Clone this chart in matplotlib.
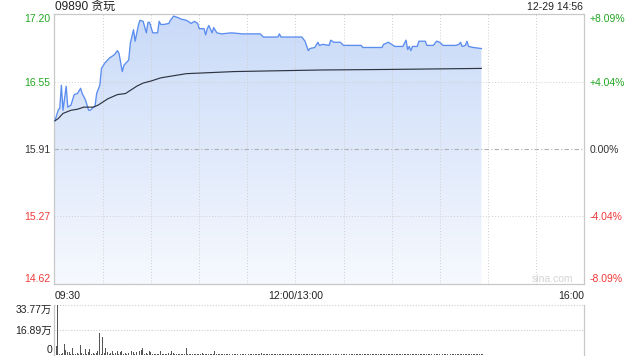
import numpy as np
import matplotlib
matplotlib.use("Agg")
import matplotlib.pyplot as plt
from matplotlib.colors import LinearSegmentedColormap

plt.rcParams['font.family'] = ['Liberation Sans', 'Noto Sans CJK SC']

# stock info
title = "09890 贪玩"
stamp = "12-29 14:56"
prev_close = 15.91
price_ticks = [14.62, 15.27, 15.91, 16.55, 17.20]
pct_labels = ["-8.09%", "-4.04%", "0.00%", "+4.04%", "+8.09%"]
time_labels = ["09:30", "12:00/13:00", "16:00"]
time_label_pos = [0, 150, 330]
vol_ticks = [0, 16.89, 33.77]
vol_labels = ["0", "16.89万", "33.77万"]

# minutes after 09:30 (lunch break removed) and price
price_min = [0, 2, 3, 4, 5, 7, 8, 10, 12, 14, 16, 17, 19, 21, 22, 24, 25, 26, 28, 29,
             31, 34, 37, 39, 40, 42, 43, 46, 47, 49, 50, 52, 53, 55, 57, 58, 59, 61, 64, 65,
             66, 68, 71, 72, 74, 76, 79, 82, 85, 87, 89, 90, 93, 94, 95, 96, 98, 99, 101, 104,
             110, 117, 128, 130, 134, 139, 140, 141, 154, 156, 158, 159, 162, 164, 165, 167, 171, 172, 174, 178,
             180, 191, 192, 204, 205, 208, 210, 212, 217, 219, 220, 221, 222, 223, 226, 227, 231, 232, 236, 238,
             240, 242, 250, 252, 253, 254, 256, 257, 258, 261, 266]
price = [16.18, 16.28, 16.30, 16.52, 16.28, 16.51, 16.31, 16.33, 16.43, 16.44, 16.49, 16.44, 16.38, 16.28, 16.28, 16.31, 16.32, 16.44, 16.52, 16.68,
         16.73, 16.78, 16.81, 16.85, 16.82, 16.65, 16.71, 16.76, 16.92, 17.05, 16.94, 17.09, 17.14, 17.13, 17.02, 17.12, 17.12, 17.02, 17.02, 17.13,
         17.10, 17.10, 17.11, 17.14, 17.18, 17.17, 17.15, 17.14, 17.11, 17.13, 17.11, 17.06, 17.06, 17.00, 17.06, 17.09, 17.02, 17.07, 17.02, 17.01,
         17.02, 17.01, 17.01, 16.98, 16.98, 16.98, 17.01, 16.98, 16.98, 16.94, 16.85, 16.87, 16.88, 16.93, 16.90, 16.91, 16.90, 16.95, 16.93, 16.93,
         16.90, 16.90, 16.88, 16.88, 16.91, 16.93, 16.91, 16.89, 16.89, 16.95, 16.86, 16.89, 16.85, 16.89, 16.89, 16.94, 16.94, 16.90, 16.90, 16.94,
         16.93, 16.90, 16.90, 16.91, 16.93, 16.89, 16.90, 16.94, 16.89, 16.88, 16.87]

# average price line
avg_min = [0, 2, 5, 10, 14, 18, 24, 27, 30, 33, 39, 44, 47, 51, 55, 60, 66, 82, 112, 166, 207, 266]
avg_price = [16.18, 16.20, 16.25, 16.28, 16.29, 16.31, 16.31, 16.33, 16.36, 16.39, 16.43, 16.44, 16.47, 16.51, 16.54,
             16.56, 16.59, 16.63, 16.65, 16.665, 16.67, 16.68]

# volume per minute, in 万 shares
volume = [5.7, 33.77, 1.0, 0.8, 1.5, 7.2, 3.4, 1.8, 1.8, 0.8,
          4.9, 1.0, 0.6, 1.2, 0.8, 6.5, 1.5, 0.8, 4.3, 1.0,
          2.0, 4.3, 0.8, 1.2, 0.6, 1.2, 2.7, 14.4, 1.0, 12.2,
          1.5, 4.9, 1.8, 0.8, 1.2, 2.7, 0.8, 1.2, 2.7, 0.6,
          1.8, 2.7, 0.8, 1.2, 0.5, 1.2, 6.5, 2.7, 1.8, 0.8,
          2.2, 1.8, 2.7, 3.4, 4.7, 0.8, 1.2, 0.5, 2.7, 2.2,
          0.6, 0.8, 0.5, 0.7, 0.5, 2.7, 0.8, 0.5, 0.7, 0.6,
          1.2, 0.5, 2.7, 1.2, 0.6, 0.5, 0.8, 0.6, 0.5, 0.8,
          0.5, 4.9, 0.6, 0.8, 0.5, 0.6, 0.7, 0.5, 0.6, 0.8,
          0.5, 1.2, 0.6, 0.5, 0.7, 0.6, 0.8, 0.5, 0.6, 2.9,
          0.6, 0.7, 0.5, 0.8, 0.6, 0.5, 0.7, 0.6, 0.5, 2.9,
          0.6, 0.5, 0.7, 0.8, 0.5, 0.6, 0.7, 1.0, 0.5, 0.6,
          0.8, 0.5, 0.6, 0.7, 0.5, 0.6, 0.8, 0.7, 1.5, 0.6,
          0.5, 0.7, 0.6, 0.5, 0.8, 0.6, 0.5, 0.7, 0.6, 0.5,
          0.8, 0.6, 0.7, 0.5, 0.6, 0.9, 0.5, 0.6, 0.7, 0.5,
          0.6, 0.8, 0.5, 0.6, 0.7, 0.5, 0.6, 0.5, 0.8, 0.6,
          0.7, 0.5, 0.6, 0.8, 0.5, 0.6, 0.7, 0.5, 0.6, 0.5,
          0.8, 0.6, 0.5, 0.7, 0.6, 0.5, 0.6, 0.8, 0.5, 0.6,
          0.7, 0.5, 0.6, 0.5, 0.8, 1.0, 0.6, 0.5, 0.7, 0.6,
          0.5, 0.6, 0.8, 0.5, 0.6, 0.7, 0.5, 0.6, 0.5, 0.7,
          0.6, 0.5, 0.8, 0.6, 0.5, 0.7, 0.6, 0.5, 0.6, 0.8,
          0.5, 0.6, 0.7, 0.5, 0.6, 0.5, 0.8, 0.6, 0.7, 0.5,
          0.6, 0.5, 0.7, 0.6, 0.5, 0.8, 0.6, 0.5, 0.6, 0.7,
          0.5, 0.6, 0.8, 0.5, 0.6, 0.7, 0.5, 0.6, 0.5, 0.7,
          0.6, 0.5, 0.8, 0.6, 0.5, 0.7, 0.6, 0.5, 0.6, 0.7,
          0.5, 0.6, 0.8, 0.5, 0.6, 0.7, 0.5, 0.6, 0.5, 0.6,
          0.7, 0.5, 0.6, 0.8, 0.5, 0.6, 0.7]

green = '#22a722'
red = '#f03a3a'
dark = '#333333'
grid_c = '#cfcfcf'
fs = 7.5

fig = plt.figure(figsize=(6.4, 3.6), dpi=100)
ax = fig.add_axes([54/640, 1-284/360, 530/640, 270/360])
axv = fig.add_axes([54/640, 1-355/360, 530/640, 50.5/360])

lo, hi = price_ticks[0], price_ticks[-1]
ax.set_xlim(-0.6, 330)
ax.set_ylim(lo, hi)

# gradient fill under price line
grad = np.linspace(0, 1, 256).reshape(-1, 1)
cmap = LinearSegmentedColormap.from_list('fill', ['#f6f9fe', '#c9daf8'])
im = ax.imshow(grad, extent=[-0.6, 330, lo, hi], origin='lower', aspect='auto', cmap=cmap, zorder=1)
poly = ax.fill_between(price_min, price, lo, facecolor='none', edgecolor='none')
im.set_clip_path(poly.get_paths()[0], transform=ax.transData)

ax.plot(price_min, price, color='#5b8def', lw=0.95, zorder=4)
ax.plot(avg_min, avg_price, color='#2e3542', lw=0.85, zorder=4)

# grid
for t in range(30, 330, 30):
    ax.axvline(t, color=grid_c, lw=0.7, ls=(0, (1, 2)), zorder=2)
for p in price_ticks[1:-1]:
    if p == prev_close:
        ax.axhline(p, color='#b0b0b0', lw=0.8, ls=(0, (4, 2, 1, 2)), zorder=2)
    else:
        ax.axhline(p, color=grid_c, lw=0.7, ls=(0, (1, 2)), zorder=2)

for s in ax.spines.values():
    s.set_color('#c8c8c8')
    s.set_linewidth(0.9)

ax.set_yticks(price_ticks)
ax.set_yticklabels(["%.2f" % p for p in price_ticks])
ax.tick_params(axis='y', length=0, pad=2.4, labelsize=fs)
lab_cols = [red, red, dark, green, green]
for lab, c in zip(ax.get_yticklabels(), lab_cols):
    lab.set_color(c)
ax.get_yticklabels()[0].set_va('bottom')
ax.get_yticklabels()[-1].set_va('top')

axr = ax.twinx()
axr.set_ylim(lo, hi)
axr.set_yticks(price_ticks)
axr.set_yticklabels(pct_labels)
axr.tick_params(axis='y', length=0, pad=4.3, labelsize=fs)
for lab, c in zip(axr.get_yticklabels(), lab_cols):
    lab.set_color(c)
axr.get_yticklabels()[0].set_va('bottom')
axr.get_yticklabels()[-1].set_va('top')
for s in axr.spines.values():
    s.set_visible(False)

ax.set_xticks(time_label_pos)
ax.set_xticklabels(time_labels)
ax.tick_params(axis='x', length=0, pad=5, labelsize=fs, labelcolor='#222222')
xl = ax.get_xticklabels()
xl[0].set_ha('left')
xl[-1].set_ha('right')

ax.text(0.94, 0.018, "sina.com", transform=ax.transAxes, ha='center', va='center',
        fontsize=fs, color='#d4d4d4', zorder=5)

fig.text(55/640, 1-7/360, title, ha='left', va='center', fontsize=8.6, color='#222222')
fig.text(583/640, 1-7/360, stamp, ha='right', va='center', fontsize=fs, color='#222222')

# volume panel
axv.set_xlim(-0.6, 330)
axv.set_ylim(0, vol_ticks[-1])
axv.bar(np.arange(len(volume)) + 0.8, volume, width=0.6, color='#555555', zorder=3)
for v in vol_ticks[1:]:
    axv.axhline(v, color=grid_c, lw=0.8, ls=(0, (1, 1.5)), zorder=1, clip_on=False)
axv.set_xticks([])
axv.set_yticks(vol_ticks)
axv.set_yticklabels(vol_labels)
axv.tick_params(axis='y', length=0, pad=1.5, labelsize=fs, labelcolor='#222222')
axv.get_yticklabels()[0].set_va('bottom')
axv.get_yticklabels()[-1].set_va('top')
for k in ['top', 'bottom']:
    axv.spines[k].set_visible(False)
for k in ['left', 'right']:
    axv.spines[k].set_color('#c8c8c8')
    axv.spines[k].set_linewidth(0.9)

fig.savefig('out.png', dpi=100)
